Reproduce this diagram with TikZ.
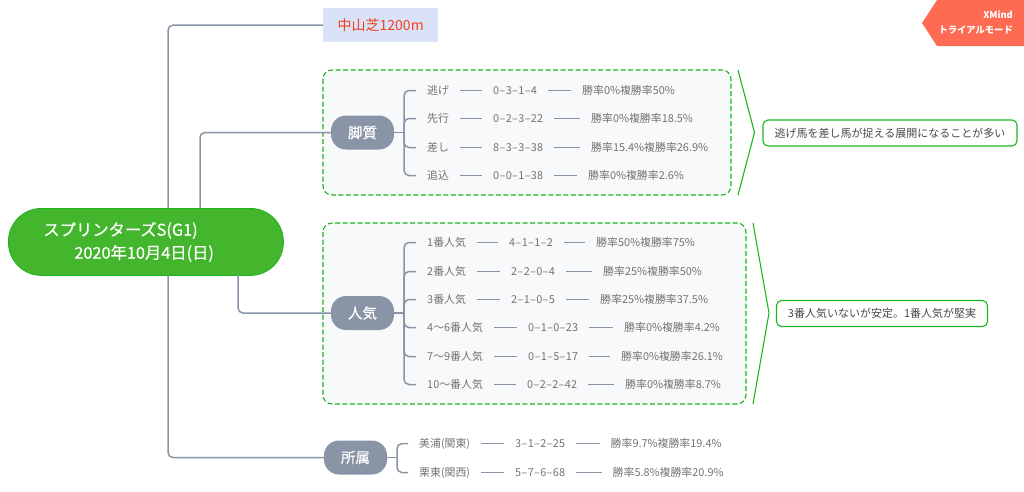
\documentclass[tikz,border=0pt]{standalone}
\usepackage{fontspec}
\usepackage{tikz}
\usepackage{xcolor}
\setmainfont{Noto Sans CJK JP}
\newfontfamily\heavyfont[FakeBold=0.4]{Noto Sans CJK JP}
\newfontfamily\recordfont[LetterSpace=3]{Noto Sans CJK JP}

\definecolor{branchgray}{HTML}{8A94A7}
\definecolor{rootgreen}{HTML}{43B62D}
\definecolor{linegreen}{HTML}{1DB51D}
\definecolor{markred}{HTML}{FF6A53}
\definecolor{boxfill}{HTML}{F8F9FB}
\definecolor{coursefill}{HTML}{D9E2F6}
\definecolor{coursetext}{HTML}{F2401C}

\begin{document}
\begin{tikzpicture}[x=1pt, y=-1pt,
    conn/.style={draw=branchgray, line width=1.5pt, rounded corners=5pt},
    link/.style={draw=branchgray, line width=1.7pt},
    pill/.style={fill=branchgray, rounded corners=15pt, minimum width=63pt, minimum height=34pt, inner sep=0pt, text=white, font=\fontsize{14.5}{16}\heavyfont},
    item/.style={anchor=west, inner xsep=11pt, inner ysep=1pt, text=black!55, font=\fontsize{10.9}{13}\selectfont},
    groupbox/.style={draw=linegreen, fill=boxfill, line width=1.1pt, dashed, dash pattern=on 5pt off 2.5pt, rounded corners=9pt},
    bracket/.style={draw=linegreen, line width=1.1pt},
    summary/.style={draw=linegreen, line width=1.1pt, rounded corners=5pt, inner sep=0pt, text=black!72, font=\fontsize{11}{13}\selectfont}]
    \useasboundingbox (0,0) rectangle (1024,491);

    % Group boxes
    \path[groupbox] (323,70) rectangle (731,195);
    \path[groupbox] (323,223) rectangle (746,404);

    % Root
    \node[draw=linegreen, fill=rootgreen, line width=0.8pt, rounded corners=33pt, anchor=north west, minimum height=67pt, text width=205pt, inner xsep=35pt, inner ysep=0pt, align=left, text=white, font=\fontsize{16.3}{23}\heavyfont] (root) at (8,208)
        {スプリンターズS(G1)\\\hspace*{31pt}2020年10月4日(日)};

    % Course
    \node[fill=coursefill, anchor=north west, minimum width=115pt, minimum height=34pt, inner sep=0pt, text=coursetext, font=\fontsize{14}{16}\selectfont] (course) at (323,8) {中山芝1200m};

    % Pills
    \node[pill] (gait) at (362.5,132.5) {脚質};
    \node[pill] (rank) at (362.5,313) {人気};
    \node[pill] (stable) at (355.5,457.5) {所属};

    % Root branches
    \coordinate (rootA) at (168,208);
    \coordinate (rootB) at (200,208);
    \coordinate (rootC) at (238,275);
    \coordinate (rootD) at (168,275);
    \draw[conn] (rootA) |- (course.west);
    \draw[conn] (rootB) |- (gait.west);
    \draw[conn] (rootC) |- (rank.west);
    \draw[conn] (rootD) |- (stable.west);

    % Gait rows
    \foreach \n/\y/\lab/\xb/\rec/\xc/\res in {
        1/90.5/逃げ/482/0–3–1–4/571/勝率0\%複勝率50\%,
        2/118.5/先行/482/0–2–3–22/580/勝率0\%複勝率18.5\%,
        3/147.5/差し/482/8–3–3–38/580/勝率15.4\%複勝率26.9\%,
        4/175.5/追込/482/0–0–1–38/577/勝率0\%複勝率2.6\%} {
        \node[item] (a\n) at (416,\y) {\lab};
        \node[item] (b\n) at (\xb,\y) {\recordfont\rec};
        \node[item] (c\n) at (\xc,\y) {\res};
        \draw[link] (a\n) -- (b\n);
        \draw[link] (b\n) -- (c\n);
    }
    \coordinate (gaitfork) at (404,132.5);
    \draw[conn] (gait.east) -- (gaitfork);
    \foreach \n in {1,...,4} {
        \draw[conn] (gaitfork) |- (a\n.west);
    }

    % Rank rows
    \foreach \n/\y/\lab/\xb/\rec/\xc/\res in {
        1/242.5/1番人気/498/4–1–1–2/585/勝率50\%複勝率75\%,
        2/271.5/2番人気/500/2–2–0–4/592/勝率25\%複勝率50\%,
        3/299.5/3番人気/500/2–1–0–5/589/勝率25\%複勝率37.5\%,
        4/327.5/4〜6番人気/517/0–1–0–23/613/勝率0\%複勝率4.2\%,
        5/356.5/7〜9番人気/517/0–1–5–17/610/勝率0\%複勝率26.1\%,
        6/384.5/10〜番人気/516/0–2–2–42/614/勝率0\%複勝率8.7\%} {
        \node[item] (d\n) at (416,\y) {\lab};
        \node[item] (e\n) at (\xb,\y) {\recordfont\rec};
        \node[item] (f\n) at (\xc,\y) {\res};
        \draw[link] (d\n) -- (e\n);
        \draw[link] (e\n) -- (f\n);
    }
    \coordinate (rankfork) at (404,313);
    \draw[conn] (rank.east) -- (rankfork);
    \foreach \n in {1,...,6} {
        \draw[conn] (rankfork) |- (d\n.west);
    }

    % Stable rows
    \foreach \n/\y/\lab/\xb/\rec/\xc/\res in {
        1/443.5/美浦(関東)/504/3–1–2–25/599.5/勝率9.7\%複勝率19.4\%,
        2/472.5/栗東(関西)/504/5–7–6–68/601.5/勝率5.8\%複勝率20.9\%} {
        \node[item] (g\n) at (408,\y) {\lab};
        \node[item] (h\n) at (\xb,\y) {\recordfont\rec};
        \node[item] (i\n) at (\xc,\y) {\res};
        \draw[link] (g\n) -- (h\n);
        \draw[link] (h\n) -- (i\n);
    }
    \coordinate (stablefork) at (397,457.5);
    \draw[conn] (stable.east) -- (stablefork);
    \foreach \n in {1,2} {
        \draw[conn] (stablefork) |- (g\n.west);
    }

    % Summaries
    \draw[bracket] (738,70) -- (754.5,132.5) -- (738,195);
    \node[summary, minimum width=254pt, minimum height=26pt] (gaitnote) at (890,133) {逃げ馬を差し馬が捉える展開になることが多い};
    \draw[bracket] (753,223) -- (769,313) -- (753,404);
    \node[summary, minimum width=211pt, minimum height=26pt] (ranknote) at (882,313.5) {3番人気いないが安定。1番人気が堅実};

    % Watermark
    \fill[markred] (937,0) -- (922,23) -- (937,46) -- (1024,46) -- (1024,0) -- cycle;
    \node[anchor=north east, inner sep=0pt, align=right, text=white, font=\fontsize{9.3}{15}\selectfont\bfseries] (mark) at (1013,10.5) {XMind\\トライアルモード};
\end{tikzpicture}
\end{document}
